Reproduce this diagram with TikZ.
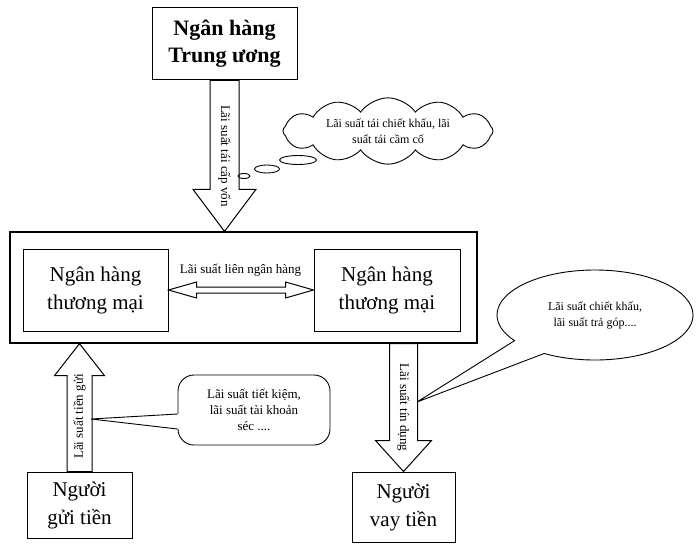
\documentclass[tikz,border=0pt]{standalone}
\usepackage{fontspec}
\setmainfont{Liberation Serif}
\usetikzlibrary{shapes.symbols, shapes.callouts, shapes.geometric, calc, positioning}

\begin{document}
\begin{tikzpicture}[x=1pt, y=-1pt,
    box/.style={rectangle, draw=black, line width=1pt, align=center, inner sep=2pt, font=\fontsize{21}{28}\selectfont},
    rate/.style={font=\fontsize{13}{15}\selectfont, inner sep=0pt},
    note/.style={draw=black, line width=0.9pt, align=center, inner sep=0pt, font=\fontsize{12}{16}\selectfont},
    puff/.style={ellipse, draw=black, line width=0.9pt, inner sep=0pt},
    fat/.style={draw=black, line width=1pt, fill=white, line join=miter}
  ]
  \useasboundingbox (0,0) rectangle (700,548);

  % central bank
  \node[box, minimum width=145pt, minimum height=72pt, font=\bfseries\fontsize{22}{27}\selectfont] (cb) at (224.5,44) {Ngân hàng\\Trung ương};

  % commercial banks
  \node[box, line width=1.3pt, minimum width=467pt, minimum height=111pt] (sys) at (243.5,287.5) {};
  \node[box, minimum width=145pt, minimum height=82pt] (nh1) at (95.5,290) {Ngân hàng\\thương mại};
  \node[box, minimum width=146pt, minimum height=82pt, right=145pt of nh1] (nh2) {Ngân hàng\\thương mại};

  % customers
  \node[box, minimum width=105pt, minimum height=66pt] (gui) at (79.5,505) {Người\\gửi tiền};
  \node[box, minimum width=103pt, minimum height=70pt] (vay) at (403.5,507) {Người\\vay tiền};

  % block arrows
  \coordinate (cbtip) at (cb.south |- sys.north);
  \coordinate (guitip) at (gui.north |- sys.south);
  \coordinate (vaytail) at (vay.north |- sys.south);
  \foreach \a/\b/\s/\w/\l in {cb.south/cbtip/14.5/31.5/42, gui.north/guitip/12.5/25/32, vaytail/vay.north/14/28/31} {
    \coordinate (hb) at ($(\b)!\l pt!(\a)$);
    \draw[fat] ($(\a)!\s pt!90:(\b)$) -- ($(hb)!\s pt!90:(\b)$) -- ($(hb)!\w pt!90:(\b)$) -- (\b)
      -- ($(hb)!\w pt!-90:(\b)$) -- ($(hb)!\s pt!-90:(\b)$) -- ($(\a)!\s pt!-90:(\b)$) -- cycle;
  }
  \node[rate, rotate=-90] (ltcv) at ($(cb.south)!0.5!(cbtip)$) {Lãi suất tái cấp vốn};
  \node[rate, rotate=90] (ltg) at ($(gui.north)!0.43!(guitip)$) {Lãi suất tiền gửi};
  \node[rate, rotate=-90] (ltd) at ($(vaytail)!0.5!(vay.north)$) {Lãi suất tín dụng};

  % interbank
  \draw[fat] (nh1.east) -- ++(28,-8) -- ++(0,5) -- ($(nh2.west)+(-28,-3)$) -- ++(0,-5) -- (nh2.west)
    -- ++(-28,8) -- ++(0,-5) -- ($(nh1.east)+(28,3)$) -- ++(0,5) -- cycle;
  \node[rate] (llnh) at (240.5,270) {Lãi suất liên ngân hàng};

  % notes
  \node[note, cloud, cloud puffs=12, cloud puff arc=110, aspect=3.4, inner xsep=-6pt, inner ysep=-6pt,
    minimum width=210pt, minimum height=63pt] (mayman) at (388,131)
    {Lãi suất tái chiết khấu, lãi\\suất tái cầm cố};
  \node[puff, minimum width=37pt, minimum height=9pt] (p1) at (298,160) {};
  \node[puff, minimum width=25pt, minimum height=8pt] (p2) at (267,169) {};
  \node[puff, minimum width=12pt, minimum height=5pt] (p3) at (244,176) {};

  \coordinate (ptgui) at (91,419);
  \node[note, rounded corners=16pt, minimum width=152pt, minimum height=70pt, font=\fontsize{13}{16}\selectfont] (tk) at (254,410)
    {Lãi suất tiết kiệm,\\lãi suất tài khoản\\séc ....};
  \fill[white] (ptgui) -- ($(tk.west)+(1.5,4)$) -- ($(tk.west)+(1.5,19)$) -- cycle;
  \draw[line width=0.9pt] ($(tk.west)+(0,4)$) -- (ptgui) -- ($(tk.west)+(0,19)$);

  \coordinate (ptvay) at (417,402);
  \node[note, ellipse callout, minimum width=196pt, minimum height=90pt, callout pointer arc=24,
    callout absolute pointer={(ptvay)}] (ck) at (595,315)
    {Lãi suất chiết khấu,\\lãi suất trả góp....};
\end{tikzpicture}
\end{document}
